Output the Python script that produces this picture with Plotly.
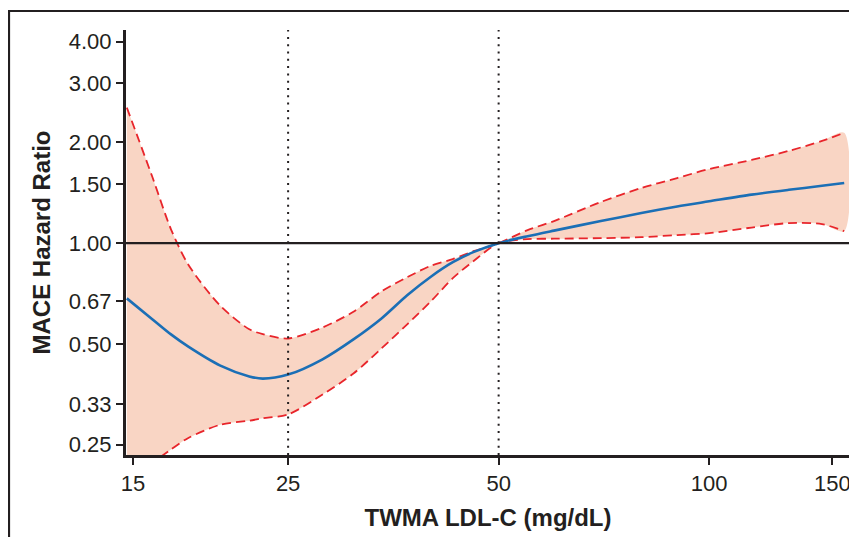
import numpy as np
import plotly.graph_objects as go

# TWMA LDL-C (mg/dL)
ldl = [14.7, 16, 17, 18, 20, 22, 23, 25, 28, 31, 34, 37, 40, 43, 46, 50,
       55, 60, 70, 80, 90, 100, 115, 130, 145, 156]
# Hazard ratio estimate
hr = [0.684, 0.592, 0.534, 0.491, 0.431, 0.400, 0.394, 0.405, 0.450, 0.516,
      0.596, 0.699, 0.794, 0.877, 0.940, 1.000,
      1.049, 1.090, 1.164, 1.230, 1.287, 1.333, 1.396, 1.443, 1.483, 1.512]
# Upper 95% CI
upper = [2.54, 1.57, 1.10, 0.862, 0.650, 0.553, 0.535, 0.519, 0.560, 0.624,
         0.718, 0.791, 0.856, 0.896, 0.946, 1.000,
         1.094, 1.164, 1.327, 1.461, 1.565, 1.665, 1.772, 1.886, 2.020, 2.135]
# Lower 95% CI
lower = [0.194, 0.221, 0.242, 0.262, 0.287, 0.295, 0.300, 0.308, 0.353, 0.408,
         0.485, 0.572, 0.670, 0.786, 0.883, 1.000,
         1.028, 1.031, 1.035, 1.042, 1.057, 1.071, 1.113, 1.148, 1.140, 1.086]

y_ticks = [0.25, 0.33, 0.50, 0.67, 1.00, 1.50, 2.00, 3.00, 4.00]
y_ticktext = ["0.25", "0.33", "0.50", "0.67", "1.00", "1.50", "2.00", "3.00", "4.00"]
x_ticks = [15, 25, 50, 100, 150]
x_ticktext = ["15", "25", "50", "100", "150"]
ref_lines = [25, 50]

INK = "#231f20"
RED = "#e8252b"
BLUE = "#1b6fb6"
FILL = "#f9d5c4"
FONT = "Liberation Sans, Arial, Helvetica, sans-serif"

fig = go.Figure()

# Confidence band fill
fig.add_trace(go.Scatter(
    x=ldl + ldl[::-1], y=upper + lower[::-1],
    fill="toself", fillcolor=FILL, line=dict(width=0, shape="spline", smoothing=0.8),
    mode="lines", hoverinfo="skip", showlegend=False))

# CI dashed lines
for arr in (upper, lower):
    fig.add_trace(go.Scatter(
        x=ldl, y=arr, mode="lines",
        line=dict(color=RED, width=1.8, dash="9px,5px", shape="spline", smoothing=0.8),
        showlegend=False))

# Estimate
fig.add_trace(go.Scatter(
    x=ldl, y=hr, mode="lines",
    line=dict(color=BLUE, width=2.6, shape="spline", smoothing=0.8),
    showlegend=False))

shapes = []
# reference line at HR = 1
shapes.append(dict(type="line", xref="paper", x0=0, x1=1, yref="y", y0=1, y1=1,
                   line=dict(color=INK, width=2.4), layer="above"))
for v in ref_lines:
    shapes.append(dict(type="line", xref="x", x0=v, x1=v, yref="paper", y0=0, y1=1,
                       line=dict(color=INK, width=2, dash="2px,5.3px"), layer="above"))
# outer frame (open on right/bottom, cut by page edge)
shapes.append(dict(type="path", xref="paper", yref="paper",
                   path="M -0.1616,-0.25 L -0.1616,1.0447 L 1.05,1.0447",
                   line=dict(color=INK, width=2.2), layer="above"))

# page body has an 8px margin; figure is sized to fill the rest of the window
fig.update_layout(
    width=849, height=529,
    margin=dict(l=118, r=7, t=22, b=82),
    paper_bgcolor="white", plot_bgcolor="white",
    font=dict(family=FONT, color=INK, size=22),
    shapes=shapes,
    showlegend=False,
)

fig.update_xaxes(
    type="log", range=[np.log10(14.66), np.log10(159)],
    tickvals=x_ticks, ticktext=x_ticktext,
    ticks="outside", ticklen=7, tickwidth=1.5, tickcolor=INK,
    showline=True, linecolor=INK, linewidth=3,
    showgrid=False, zeroline=False,
    tickfont=dict(size=22, family=FONT, color=INK),
    title=dict(text="<b>TWMA LDL-C (mg/dL)</b>", font=dict(size=24, family=FONT, color=INK), standoff=14),
)
fig.update_yaxes(
    type="log", range=[np.log10(0.233), np.log10(4.33)],
    tickvals=y_ticks, ticktext=y_ticktext,
    ticks="outside", ticklen=7, tickwidth=1.5, tickcolor=INK,
    showline=True, linecolor=INK, linewidth=3,
    showgrid=False, zeroline=False,
    tickfont=dict(size=22, family=FONT, color=INK),
    title=dict(text="<b>MACE Hazard Ratio</b>", font=dict(size=24, family=FONT, color=INK), standoff=12),
)

fig.write_html("out.html")
